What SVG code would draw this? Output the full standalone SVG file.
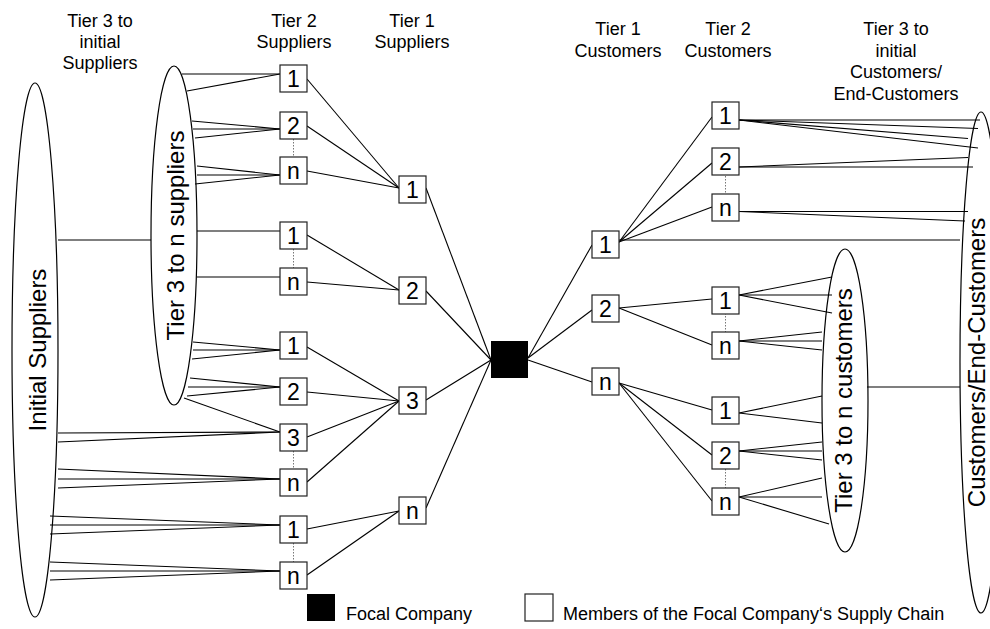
<svg xmlns="http://www.w3.org/2000/svg" width="990" height="629" viewBox="0 0 990 629">
<style>
text{font-family:"Liberation Sans",Arial,sans-serif;fill:#000}
.hdr{font-size:18px;text-anchor:middle}
.big{font-size:24px;text-anchor:middle}
.lbl{font-size:23px;text-anchor:middle}
.leg{font-size:18px}
.bx{fill:#fff;stroke:#222;stroke-width:1.2}
.el{fill:#fff;stroke:#000;stroke-width:1.2}
#connectors line{stroke:#000;stroke-width:1.1}
#connectors line.dot{stroke:#777;stroke-width:1;stroke-dasharray:1.5 1.5}
</style>
<rect width="990" height="629" fill="#fff"/>

<!-- headers -->
<g id="headers">
<text class="hdr" x="100" y="27">Tier 3 to</text>
<text class="hdr" x="100" y="48">initial</text>
<text class="hdr" x="100" y="69">Suppliers</text>
<text class="hdr" x="294" y="27">Tier 2</text>
<text class="hdr" x="294" y="48">Suppliers</text>
<text class="hdr" x="412" y="27">Tier 1</text>
<text class="hdr" x="412" y="48">Suppliers</text>
<text class="hdr" x="618" y="35">Tier 1</text>
<text class="hdr" x="618" y="57">Customers</text>
<text class="hdr" x="728" y="35">Tier 2</text>
<text class="hdr" x="728" y="57">Customers</text>
<text class="hdr" x="896" y="35">Tier 3 to</text>
<text class="hdr" x="896" y="56.5">initial</text>
<text class="hdr" x="896" y="78">Customers/</text>
<text class="hdr" x="896" y="99.5">End-Customers</text>
</g>

<!-- big ellipses -->
<g id="initial-suppliers">
<ellipse class="el" cx="35" cy="350" rx="23" ry="267"/>
<text class="big" transform="translate(46,350) rotate(-90)">Initial Suppliers</text>
</g>
<g id="tier3-suppliers">
<ellipse class="el" cx="174" cy="235.5" rx="23" ry="169.5"/>
<text class="big" transform="translate(184,235.5) rotate(-90)">Tier 3 to n suppliers</text>
</g>
<g id="tier3-customers">
<ellipse class="el" cx="845" cy="400.5" rx="23" ry="151.5"/>
<text class="big" transform="translate(852,400.5) rotate(-90)">Tier 3 to n customers</text>
</g>
<g id="end-customers">
<ellipse class="el" cx="981" cy="362.5" rx="21" ry="250.5"/>
<text class="big" transform="translate(985,362.5) rotate(-90)">Customers/End-Customers</text>
</g>

<!-- connectors -->
<g id="connectors">
<line x1="182" y1="74" x2="280" y2="74"/>
<line x1="187" y1="91" x2="280" y2="74"/>
<line x1="192" y1="121" x2="280" y2="129"/>
<line x1="193" y1="129" x2="280" y2="129"/>
<line x1="195" y1="138" x2="280" y2="129"/>
<line x1="197" y1="166" x2="280" y2="175"/>
<line x1="197" y1="175" x2="280" y2="175"/>
<line x1="195" y1="184" x2="280" y2="175"/>
<line x1="197" y1="231" x2="280" y2="231"/>
<line x1="197" y1="277" x2="280" y2="277"/>
<line x1="58" y1="240" x2="151" y2="240"/>
<line x1="193" y1="342" x2="280" y2="350"/>
<line x1="193" y1="350" x2="280" y2="350"/>
<line x1="192" y1="359" x2="280" y2="350"/>
<line x1="190" y1="378" x2="280" y2="387"/>
<line x1="188" y1="387" x2="280" y2="387"/>
<line x1="187" y1="396" x2="280" y2="387"/>
<line x1="184" y1="398" x2="280" y2="432"/>
<line x1="58" y1="433" x2="280" y2="432"/>
<line x1="58" y1="442" x2="280" y2="432"/>
<line x1="58" y1="469" x2="280" y2="479"/>
<line x1="58" y1="479" x2="280" y2="479"/>
<line x1="58" y1="488" x2="280" y2="479"/>
<line x1="50" y1="516" x2="280" y2="525"/>
<line x1="50" y1="525" x2="280" y2="525"/>
<line x1="50" y1="534" x2="280" y2="525"/>
<line x1="50" y1="562" x2="280" y2="571"/>
<line x1="50" y1="571" x2="280" y2="571"/>
<line x1="50" y1="580" x2="280" y2="571"/>

<line x1="307" y1="79" x2="399" y2="188"/>
<line x1="307" y1="126" x2="399" y2="188"/>
<line x1="307" y1="171" x2="399" y2="188"/>
<line x1="307" y1="235" x2="399" y2="290"/>
<line x1="307" y1="282" x2="399" y2="290"/>
<line x1="307" y1="347" x2="399" y2="401"/>
<line x1="307" y1="392" x2="399" y2="401"/>
<line x1="307" y1="437" x2="399" y2="401"/>
<line x1="307" y1="482" x2="399" y2="401"/>
<line x1="307" y1="529" x2="399" y2="511"/>
<line x1="307" y1="575" x2="399" y2="511"/>

<line x1="426" y1="188" x2="491" y2="360"/>
<line x1="426" y1="291" x2="491" y2="360"/>
<line x1="426" y1="400" x2="491" y2="360"/>
<line x1="426" y1="508" x2="491" y2="360"/>

<line x1="528" y1="358" x2="592" y2="245"/>
<line x1="528" y1="358" x2="592" y2="310"/>
<line x1="528" y1="360" x2="592" y2="382"/>

<line x1="619" y1="242" x2="712" y2="117"/>
<line x1="619" y1="242" x2="712" y2="163"/>
<line x1="619" y1="242" x2="712" y2="207"/>
<line x1="619" y1="240" x2="960" y2="240"/>
<line x1="619" y1="308" x2="712" y2="299"/>
<line x1="619" y1="308" x2="712" y2="345"/>
<line x1="619" y1="383" x2="712" y2="410"/>
<line x1="619" y1="383" x2="712" y2="455"/>
<line x1="619" y1="383" x2="712" y2="501"/>

<line x1="739" y1="295" x2="832" y2="277"/>
<line x1="739" y1="295" x2="832" y2="295"/>
<line x1="739" y1="295" x2="832" y2="313"/>
<line x1="739" y1="341" x2="822" y2="332"/>
<line x1="739" y1="341" x2="822" y2="341"/>
<line x1="739" y1="341" x2="822" y2="350"/>
<line x1="739" y1="413" x2="822" y2="396"/>
<line x1="739" y1="413" x2="822" y2="423"/>
<line x1="739" y1="451" x2="822" y2="442"/>
<line x1="739" y1="451" x2="822" y2="451"/>
<line x1="739" y1="451" x2="822" y2="460"/>
<line x1="739" y1="497" x2="822" y2="478"/>
<line x1="739" y1="497" x2="822" y2="497"/>
<line x1="739" y1="497" x2="829" y2="524"/>

<line x1="739" y1="120" x2="980" y2="120"/>
<line x1="739" y1="120" x2="978" y2="128.5"/>
<line x1="739" y1="120" x2="968" y2="138.5"/>
<line x1="739" y1="120" x2="978" y2="148"/>
<line x1="739" y1="167" x2="968" y2="157.5"/>
<line x1="739" y1="167" x2="973" y2="167"/>
<line x1="739" y1="211.5" x2="968" y2="211.5"/>
<line x1="739" y1="211.5" x2="965" y2="221"/>
<line x1="867" y1="387" x2="960" y2="387"/>

<line class="dot" x1="293.5" y1="139" x2="293.5" y2="157"/>
<line class="dot" x1="293.5" y1="249" x2="293.5" y2="268"/>
<line class="dot" x1="293.5" y1="451" x2="293.5" y2="469"/>
<line class="dot" x1="293.5" y1="543" x2="293.5" y2="562"/>
<line class="dot" x1="725.5" y1="176" x2="725.5" y2="194"/>
<line class="dot" x1="725.5" y1="313" x2="725.5" y2="332"/>
<line class="dot" x1="725.5" y1="469" x2="725.5" y2="488"/>
</g>

<!-- tier 2 suppliers -->
<g id="s2-a1"><rect class="bx" x="280" y="65" width="27" height="27"/><text class="lbl" x="293.5" y="86.8">1</text></g>
<g id="s2-a2"><rect class="bx" x="280" y="112" width="27" height="27"/><text class="lbl" x="293.5" y="133.8">2</text></g>
<g id="s2-an"><rect class="bx" x="280" y="157" width="27" height="27"/><text class="lbl" x="293.5" y="178.8">n</text></g>
<g id="s2-b1"><rect class="bx" x="280" y="222" width="27" height="27"/><text class="lbl" x="293.5" y="243.8">1</text></g>
<g id="s2-bn"><rect class="bx" x="280" y="268" width="27" height="27"/><text class="lbl" x="293.5" y="289.8">n</text></g>
<g id="s2-c1"><rect class="bx" x="280" y="332" width="27" height="27"/><text class="lbl" x="293.5" y="353.8">1</text></g>
<g id="s2-c2"><rect class="bx" x="280" y="378" width="27" height="27"/><text class="lbl" x="293.5" y="399.8">2</text></g>
<g id="s2-c3"><rect class="bx" x="280" y="424" width="27" height="27"/><text class="lbl" x="293.5" y="445.8">3</text></g>
<g id="s2-cn"><rect class="bx" x="280" y="469" width="27" height="27"/><text class="lbl" x="293.5" y="490.8">n</text></g>
<g id="s2-d1"><rect class="bx" x="280" y="516" width="27" height="27"/><text class="lbl" x="293.5" y="537.8">1</text></g>
<g id="s2-dn"><rect class="bx" x="280" y="562" width="27" height="27"/><text class="lbl" x="293.5" y="583.8">n</text></g>

<!-- tier 1 suppliers -->
<g id="s1-1"><rect class="bx" x="399" y="176" width="27" height="27"/><text class="lbl" x="412.5" y="197.8">1</text></g>
<g id="s1-2"><rect class="bx" x="399" y="277" width="27" height="27"/><text class="lbl" x="412.5" y="298.8">2</text></g>
<g id="s1-3"><rect class="bx" x="399" y="387" width="27" height="27"/><text class="lbl" x="412.5" y="408.8">3</text></g>
<g id="s1-n"><rect class="bx" x="399" y="497" width="27" height="27"/><text class="lbl" x="412.5" y="518.8">n</text></g>

<!-- focal -->
<g id="focal"><rect x="491" y="341" width="37" height="37" fill="#000"/></g>

<!-- tier 1 customers -->
<g id="c1-1"><rect class="bx" x="592" y="231" width="27" height="27"/><text class="lbl" x="605.5" y="252.8">1</text></g>
<g id="c1-2"><rect class="bx" x="592" y="295" width="27" height="27"/><text class="lbl" x="605.5" y="316.8">2</text></g>
<g id="c1-n"><rect class="bx" x="592" y="368" width="27" height="27"/><text class="lbl" x="605.5" y="389.8">n</text></g>

<!-- tier 2 customers -->
<g id="c2-d1"><rect class="bx" x="712" y="102" width="27" height="27"/><text class="lbl" x="725.5" y="123.8">1</text></g>
<g id="c2-d2"><rect class="bx" x="712" y="148" width="27" height="27"/><text class="lbl" x="725.5" y="169.8">2</text></g>
<g id="c2-dn"><rect class="bx" x="712" y="194" width="27" height="27"/><text class="lbl" x="725.5" y="215.8">n</text></g>
<g id="c2-e1"><rect class="bx" x="712" y="287" width="27" height="27"/><text class="lbl" x="725.5" y="308.8">1</text></g>
<g id="c2-en"><rect class="bx" x="712" y="332" width="27" height="27"/><text class="lbl" x="725.5" y="353.8">n</text></g>
<g id="c2-f1"><rect class="bx" x="712" y="397" width="27" height="27"/><text class="lbl" x="725.5" y="418.8">1</text></g>
<g id="c2-f2"><rect class="bx" x="712" y="442" width="27" height="27"/><text class="lbl" x="725.5" y="463.8">2</text></g>
<g id="c2-fn"><rect class="bx" x="712" y="488" width="27" height="27"/><text class="lbl" x="725.5" y="509.8">n</text></g>

<!-- legend -->
<g id="legend">
<rect x="307" y="594" width="28" height="27" fill="#000"/>
<text class="leg" x="346" y="620">Focal Company</text>
<rect class="bx" x="525" y="594" width="28" height="27"/>
<text class="leg" x="563" y="620">Members of the Focal Company‘s Supply Chain</text>
</g>
</svg>
